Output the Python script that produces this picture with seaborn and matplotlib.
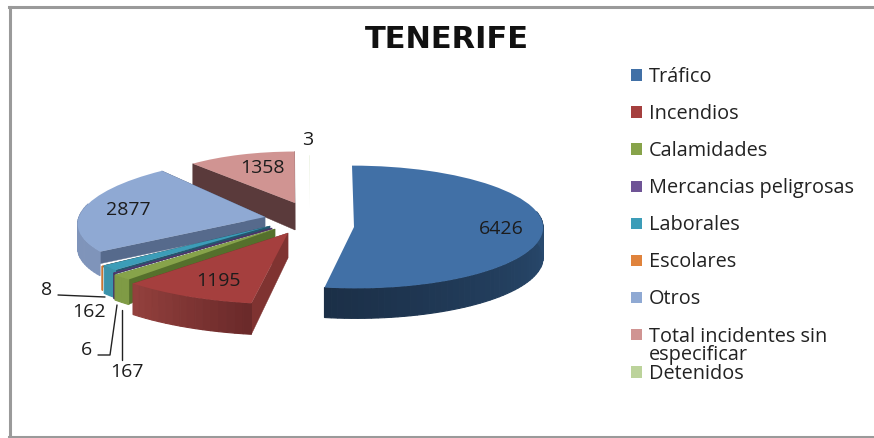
import matplotlib
matplotlib.use('Agg')
import matplotlib.pyplot as plt
import matplotlib.transforms as mtrans
from matplotlib.colors import to_rgb
import numpy as np
import seaborn as sns

categories = ['Tráfico', 'Incendios', 'Calamidades', 'Mercancias peligrosas', 'Laborales',
              'Escolares', 'Otros', 'Total incidentes sin\nespecificar', 'Detenidos']
values = [6426, 1195, 167, 6, 162, 8, 2877, 1358, 3]

colors = ['#4170a6', '#a53f3e', '#87a34a', '#6f5496', '#3c9db8', '#e0833c', '#8fa9d3', '#d09492', '#bcd39b']
cut_colors = ['#24405f', '#7f3331', '#55702c', '#4a3566', '#24566e', '#a05c28', '#566a8c', '#5a3a3b', '#e8efdc']
rim_a = ['#34608f', '#6b2a2a', '#7f9b45', '#4a3566', '#3a93ab', '#c87533', '#7f94ba', '#5a3a3b', '#e8efdc']
rim_b = ['#1b2f47', '#93403d', '#7f9b45', '#4a3566', '#3a93ab', '#c87533', '#7f94ba', '#5a3a3b', '#e8efdc']

# layout of the exploded slices, in pixels:
# centre x, centre y, scale, shear, cut depth at apex, cut depth at rim, rim depth
slice_layout = [(354, 227, 0.99, -2, 0, 0, 30), (288, 233, 1.15, 0, 25, 31, 31), (275, 229, 1.15, -12, 8, 25, 25),
                (272, 228, 1.12, -9, 1, 1, 26), (270, 226, 1.10, -10, 3, 4, 28), (266, 228, 1.07, -6, 1, 1, 24),
                (265, 217, 0.974, 22, 12, 12, 24), (295, 203, 0.83, 0, 27, 22, 22), (310, 208, 0.85, 0, 0, 0, 0)]
draw_order = [8, 7, 6, 5, 4, 3, 2, 1, 0]
rx, ry = 191, 62

sns.set_theme(style='white')
plt.rcParams['font.family'] = ['Open Sans', 'DejaVu Sans']

fig = plt.figure(figsize=(8.74, 4.38), dpi=100)
ax = fig.add_axes([9.5 / 874, 1 / 438, 864.5 / 874, 430 / 438])
wedges, _ = ax.pie(values, colors=colors, startangle=90, counterclock=False)
ax.set_aspect('auto')
ax.set_xlim(9.5, 874)
ax.set_ylim(437, 7)
ax.set_frame_on(True)
for side, spine in ax.spines.items():
    spine.set_visible(side != 'right')
    spine.set_color('#9a9a9a')
    spine.set_linewidth(2.2)


def rim(layout, t, drop=0):
    cx, cy, sc, shear = layout[:4]
    a = np.radians(t)
    return cx + rx * sc * np.cos(a) + shear * np.sin(a), cy - ry * sc * np.sin(a) + drop


for k, i in enumerate(draw_order):
    w = wedges[i]
    lay = slice_layout[i]
    cx, cy, sc, shear, c0, c1, d = lay
    z = 2 + 2 * k
    mat = np.array([[rx * sc, shear, cx], [0, -ry * sc, cy], [0, 0, 1]])
    w.set_transform(mtrans.Affine2D(mat) + ax.transData)
    w.set_zorder(z + 1)
    w.set_linewidth(0)
    w.set_clip_on(False)
    # cut faces
    if c1 > 0:
        for t in (w.theta1, w.theta2):
            x1, y1 = rim(lay, t)
            x2, y2 = rim(lay, t, c1)
            ax.fill([cx, x1, x2, cx], [cy, y1, y2, cy + c0], color=cut_colors[i], lw=0.3, zorder=z)
    # outer face, shaded along the arc, only where it faces the viewer
    ts = np.linspace(w.theta1, w.theta2, max(3, int((w.theta2 - w.theta1) / 2)))
    ca, cb = np.array(to_rgb(rim_a[i])), np.array(to_rgb(rim_b[i]))
    for j in range(len(ts) - 1):
        if np.sin(np.radians(ts[j])) > 0.25:
            continue
        f = j / max(1, len(ts) - 2)
        col = cb + (ca - cb) * f
        xa, ya = rim(lay, ts[j])
        xb, yb = rim(lay, ts[j + 1])
        ax.fill([xa, xb, xb, xa], [ya, yb, yb + d, ya + d], color=col, lw=0.8, zorder=z)

text_col = '#1c1c1c'
label_fs = 14
ax.text(501, 229, '6426', ha='center', va='center', fontsize=label_fs, color=text_col, zorder=40)
ax.text(218, 281, '1195', ha='center', va='center', fontsize=label_fs, color=text_col, zorder=40)
ax.text(128, 210, '2877', ha='center', va='center', fontsize=label_fs, color=text_col, zorder=40)
ax.text(262, 168, '1358', ha='center', va='center', fontsize=label_fs, color=text_col, zorder=40)
ax.text(308, 140, '3', ha='center', va='center', fontsize=label_fs, color=text_col, zorder=40)
ax.text(47, 290, '8', ha='center', va='center', fontsize=label_fs, color=text_col, zorder=40)
ax.text(89, 312, '162', ha='center', va='center', fontsize=label_fs, color=text_col, zorder=40)
ax.text(87, 350, '6', ha='center', va='center', fontsize=label_fs, color=text_col, zorder=40)
ax.text(127, 372, '167', ha='center', va='center', fontsize=label_fs, color=text_col, zorder=40)

# leader lines of the small slices
ax.plot([58, 105], [295, 297], color='#222222', lw=1, zorder=40)
ax.plot([98, 110, 117], [355, 355, 305], color='#222222', lw=1, zorder=40)
ax.plot([122, 122], [360, 310], color='#222222', lw=1, zorder=40)

ax.text(447, 39, 'TENERIFE', ha='center', va='center', fontsize=22, fontweight='bold', color='#111111',
        family=['DejaVu Sans'])

# the second line of the long entry sits right on top of the last row, so it goes in by hand
first_lines = [c.split('\n')[0] for c in categories]
kw = dict(frameon=False, fontsize=14.3, labelcolor='#222222', borderpad=0, borderaxespad=0, handlelength=0.56,
          handleheight=0.5, handletextpad=0.35, labelspacing=0.86, bbox_transform=ax.transData, loc='upper left')
leg1 = ax.legend(wedges[:8], first_lines[:8], bbox_to_anchor=(631, 67), **kw)
ax.add_artist(leg1)
leg2 = ax.legend(wedges[8:], first_lines[8:], bbox_to_anchor=(631, 364), **kw)
for leg in (leg1, leg2):
    leg.set_zorder(50)
ax.text(649, 355, categories[7].split('\n')[1], ha='left', va='center', fontsize=14.3, color='#222222', zorder=50)

fig.savefig('out.png', dpi=100, facecolor='white')
